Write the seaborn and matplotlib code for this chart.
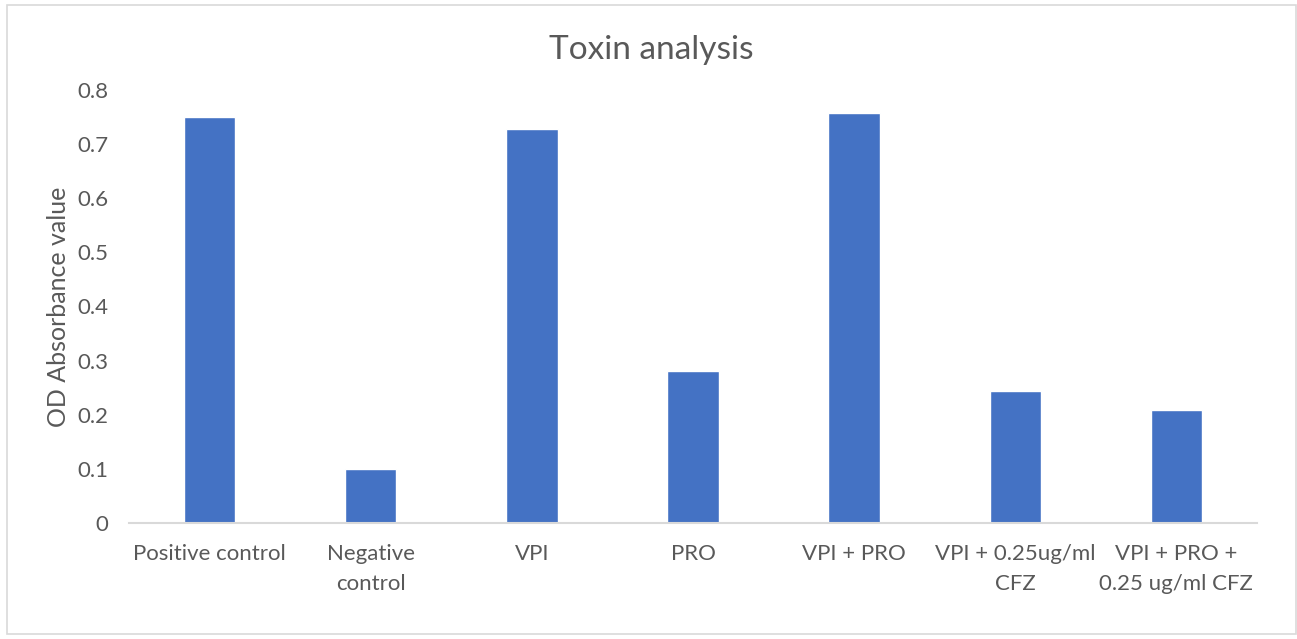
import matplotlib
matplotlib.use("Agg")
import matplotlib.pyplot as plt
from matplotlib.patches import Rectangle
import seaborn as sns
import pandas as pd

categories = ["Positive control", "Negative\ncontrol", "VPI", "PRO", "VPI + PRO",
              "VPI + 0.25ug/ml\nCFZ", "VPI + PRO +\n0.25 ug/ml CFZ"]
od_values = [0.751, 0.100, 0.728, 0.281, 0.757, 0.244, 0.209]
y_ticks = [0, 0.1, 0.2, 0.3, 0.4, 0.5, 0.6, 0.7, 0.8]
y_tick_labels = ["0", "0.1", "0.2", "0.3", "0.4", "0.5", "0.6", "0.7", "0.8"]

sns.set_theme(style="white")
plt.rcParams["font.family"] = ["Lato", "DejaVu Sans"]

W, H = 1297, 639
fig = plt.figure(figsize=(W / 100, H / 100), dpi=100)
ax = fig.add_axes([129 / W, 1 - 523 / H, (1257 - 129) / W, (523 - 90) / H])

df = pd.DataFrame({"group": categories, "od": od_values})
sns.barplot(data=df, x="group", y="od", color="#4472C4", saturation=1,
            width=0.32, ax=ax)

text_color = "#595959"
ax.set_ylim(0, 0.8)
ax.set_yticks(y_ticks)
ax.set_yticklabels(y_tick_labels, fontsize=16, color=text_color)
ax.tick_params(axis="y", length=0, pad=15)
ax.tick_params(axis="x", length=0, pad=15)
for lbl in ax.get_xticklabels():
    lbl.set_fontsize(16)
    lbl.set_color(text_color)
    lbl.set_linespacing(1.65)
ax.set_xlabel("")
ax.set_ylabel("OD Absorbance value", fontsize=18, color=text_color)
ax.yaxis.set_label_coords(-(129 - 70) / (1257 - 129), 0.5)

for side in ["left", "right", "top"]:
    ax.spines[side].set_visible(False)
ax.spines["bottom"].set_color("#D9D9D9")
ax.spines["bottom"].set_linewidth(1.5)

fig.text(651 / W, 1 - 50 / H, "Toxin analysis",
         ha="center", va="center", fontsize=24, color=text_color)

fig.patches.append(Rectangle((7 / W, 1 - 634 / H), (1296 - 7) / W, (634 - 5) / H,
                             transform=fig.transFigure, fill=False,
                             edgecolor="#D9D9D9", linewidth=1.2))

fig.savefig("out.png", dpi=100)
